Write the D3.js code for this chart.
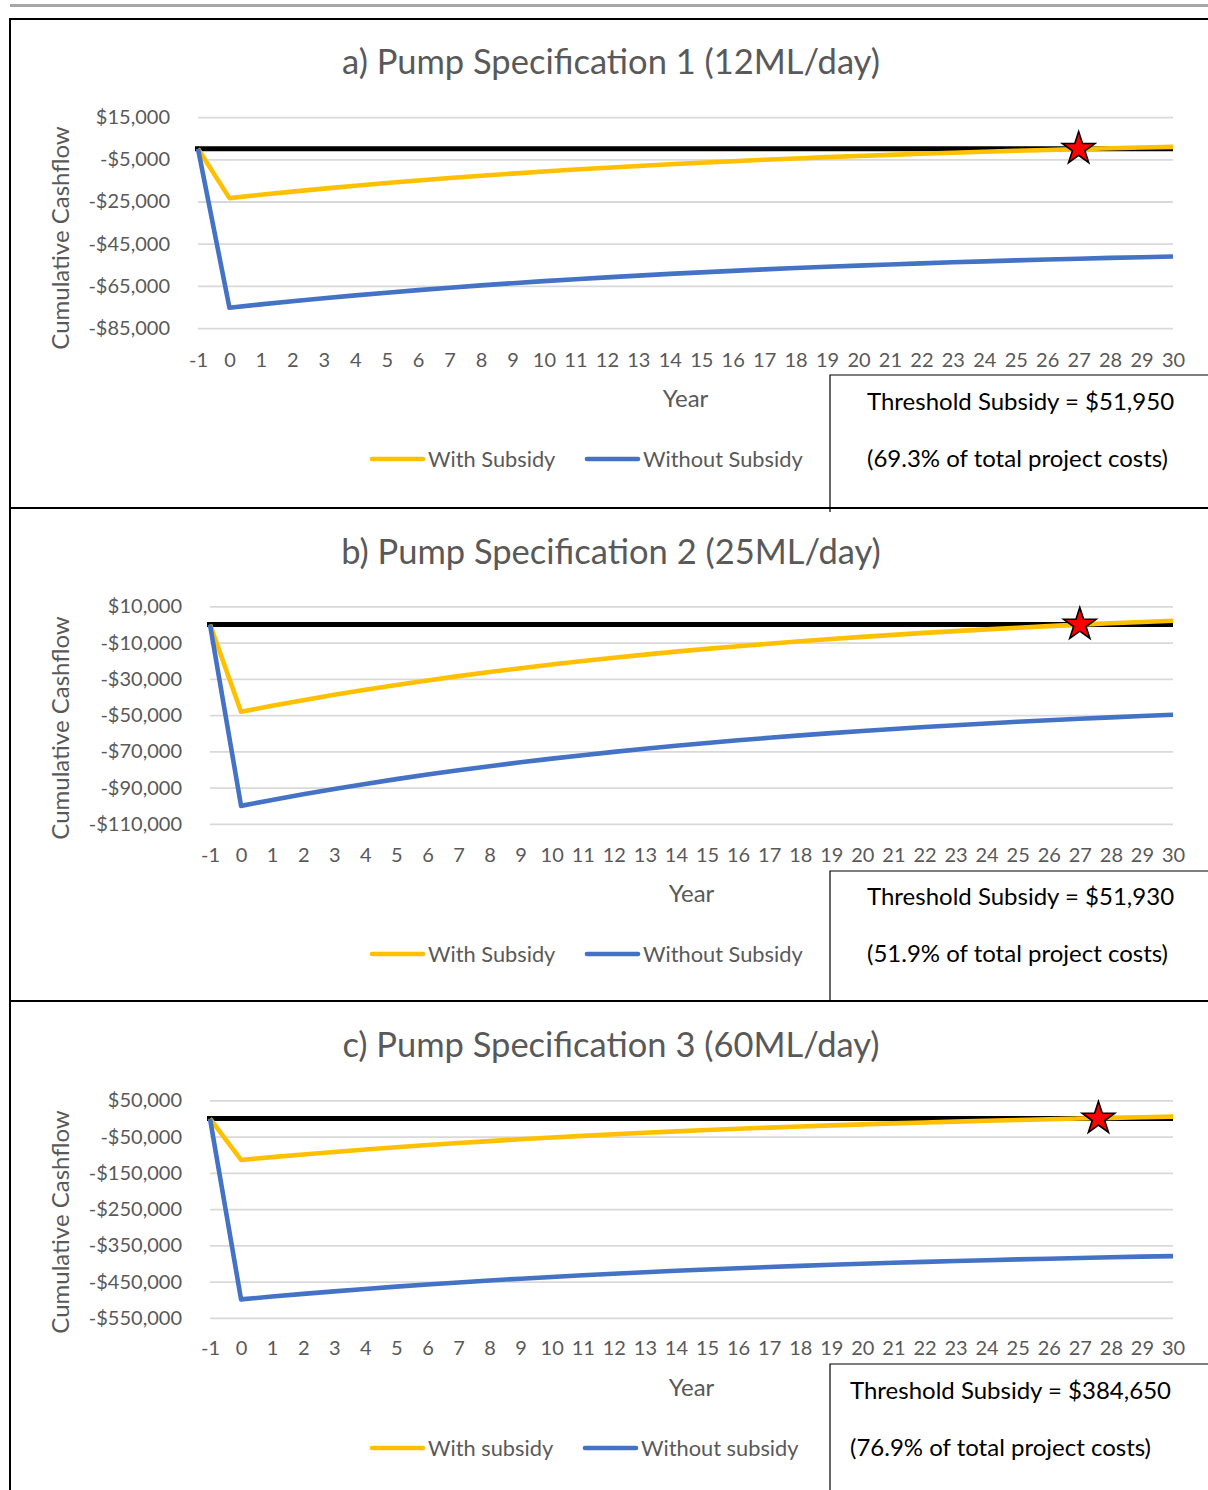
<!DOCTYPE html>
<html>
<head>
<meta charset="utf-8">
<script src="https://cdn.jsdelivr.net/npm/d3@7"></script>
<style>
  body { margin: 0; background: #fff; }
  svg text { font-family: Lato, "Liberation Sans", sans-serif; }
</style>
</head>
<body>
<div id="chart"></div>
<script>
// years on the category axis
const years = d3.range(-1, 31);

// a) Pump Specification 1 (12ML/day)
const withSubsidyA = [0, -23400, -21810, -20310, -18890, -17540, -16260, -15050, -13900, -12810, -11780,
  -10800, -9870, -8990, -8160, -7370, -6620, -5910, -5230, -4600, -3990,
  -3420, -2880, -2360, -1870, -1410, -970, -560, -160, 210, 560, 900];
const withoutSubsidyA = [0, -75350, -73760, -72260, -70840, -69490, -68210, -67000, -65850, -64760, -63730,
  -62750, -61820, -60940, -60110, -59320, -58570, -57860, -57180, -56550, -55940,
  -55370, -54830, -54310, -53820, -53360, -52920, -52510, -52110, -51740, -51390, -51050];
const yTicksA = [15000, -5000, -25000, -45000, -65000, -85000];

// b) Pump Specification 2 (25ML/day)
const withSubsidyB = [0, -48100, -44820, -41720, -38770, -35980, -33340, -30830, -28450, -26200, -24060,
  -22040, -20120, -18300, -16580, -14940, -13400, -11930, -10540, -9220, -7970,
  -6780, -5660, -4590, -3590, -2630, -1720, -860, -50, 730, 1460, 2150];
const withoutSubsidyB = [0, -100030, -96750, -93650, -90700, -87910, -85270, -82760, -80380, -78130, -75990,
  -73970, -72050, -70230, -68510, -66870, -65330, -63860, -62470, -61150, -59900,
  -58710, -57590, -56520, -55520, -54560, -53650, -52790, -51980, -51200, -50470, -49780];
const yTicksB = [10000, -10000, -30000, -50000, -70000, -90000, -110000];

// c) Pump Specification 3 (60ML/day)
const withSubsidyC = [0, -114300, -106510, -99120, -92120, -85480, -79190, -73230, -67580, -62220, -57140,
  -52330, -47760, -43440, -39340, -35450, -31770, -28280, -24970, -21840, -18860,
  -16050, -13370, -10840, -8440, -6170, -4010, -1970, -30, 1810, 3550, 5200];
const withoutSubsidyC = [0, -498950, -491160, -483770, -476770, -470130, -463840, -457880, -452230, -446870, -441790,
  -436980, -432410, -428090, -423990, -420100, -416420, -412930, -409620, -406490, -403510,
  -400700, -398020, -395490, -393090, -390820, -388660, -386620, -384680, -382840, -381100, -379450];
const yTicksC = [50000, -50000, -150000, -250000, -350000, -450000, -550000];

// break-even line (year -1 to year 30 at $0)
const breakEvenYears = [-1, 30];
const breakEvenValues = [0, 0];

const titles = ["a) Pump Specification 1 (12ML/day)", "b) Pump Specification 2 (25ML/day)", "c) Pump Specification 3 (60ML/day)"];
const thresholdTexts = ["Threshold Subsidy = $51,950", "Threshold Subsidy = $51,930", "Threshold Subsidy = $384,650"];
const shareTexts = ["(69.3% of total project costs)", "(51.9% of total project costs)", "(76.9% of total project costs)"];
const legendNames = [["With Subsidy", "Without Subsidy"], ["With Subsidy", "Without Subsidy"], ["With subsidy", "Without subsidy"]];
const starYears = [27, 27, 27.6];

const W = 1208, H = 1490;
const plotRight = 1173;
const gray = "#595959";

const panels = [
  {withS: withSubsidyA, withoutS: withoutSubsidyA, ticks: yTicksA,
   top: 19, left: 198, yPx: [328.1, 117.1], titleY: 62, xTickY: 360, yearY: 399, legendY: 459,
   axisTitleY: 238, boxTop: 375, boxTextX: 867, boxY: [402, 459], legendX: [370, 585]},
  {withS: withSubsidyB, withoutS: withoutSubsidyB, ticks: yTicksB,
   top: 508, left: 210, yPx: [823.95, 606.45], titleY: 552, xTickY: 855, yearY: 894, legendY: 954,
   axisTitleY: 728, boxTop: 871, boxTextX: 867, boxY: [897, 954], legendX: [370, 585]},
  {withS: withSubsidyC, withoutS: withoutSubsidyC, ticks: yTicksC,
   top: 1001, left: 210, yPx: [1317.9, 1100.4], titleY: 1045, xTickY: 1348, yearY: 1388, legendY: 1448,
   axisTitleY: 1222, boxTop: 1364, boxTextX: 850, boxY: [1391, 1448], legendX: [370, 583]}
];

const svg = d3.select("#chart").append("svg")
  .attr("width", W).attr("height", H);

svg.append("rect").attr("width", W).attr("height", H).attr("fill", "#fff");

// grey rule at the top of the page
svg.append("line")
  .attr("x1", 10).attr("x2", W).attr("y1", 5.5).attr("y2", 5.5)
  .attr("stroke", "#a6a6a6").attr("stroke-width", 3);

const money = d => (d < 0 ? "-" : "") + "$" + d3.format(",")(Math.abs(d));

panels.forEach((p, i) => {
  const g = svg.append("g");

  const x = d3.scaleLinear().domain([-1, 30]).range([p.left, plotRight]);
  const y = d3.scaleLinear()
    .domain([p.ticks[p.ticks.length - 1], p.ticks[0]])
    .range(p.yPx);

  // gridlines + y labels
  const yAxis = g.append("g")
    .attr("transform", `translate(${p.left},0)`)
    .call(d3.axisLeft(y).tickValues(p.ticks).tickFormat(money)
      .tickSizeInner(-(plotRight - p.left)).tickSizeOuter(0).tickPadding(28));
  yAxis.select(".domain").remove();
  yAxis.selectAll(".tick line").attr("stroke", "#d9d9d9").attr("stroke-width", 1.8);
  yAxis.selectAll(".tick text").attr("fill", gray).style("font-size", "20px");

  // x labels
  const xAxis = g.append("g")
    .attr("transform", `translate(0,${p.yPx[0]})`)
    .call(d3.axisBottom(x).tickValues(years).tickFormat(d => String(d))
      .tickSize(0).tickPadding(p.xTickY - p.yPx[0] - 7));
  xAxis.select(".domain").remove();
  xAxis.selectAll(".tick text").attr("fill", gray).style("font-size", "20px");

  const line = d3.line().x(d => x(d[0])).y(d => y(d[1]));

  // black break-even line
  g.append("path")
    .datum(breakEvenYears.map((yr, k) => [yr, breakEvenValues[k]]))
    .attr("d", line)
    .attr("fill", "none").attr("stroke", "#000").attr("stroke-width", 5);
  g.append("rect")
    .attr("x", x(-1) - 3).attr("y", y(0) - 2.5).attr("width", 4).attr("height", 5)
    .attr("fill", "#000");

  g.append("path")
    .datum(years.map((yr, k) => [yr, p.withS[k]]))
    .attr("d", line)
    .attr("fill", "none").attr("stroke", "#FFC000").attr("stroke-width", 4.6)
    .attr("stroke-linejoin", "round");

  g.append("path")
    .datum(years.map((yr, k) => [yr, p.withoutS[k]]))
    .attr("d", line)
    .attr("fill", "none").attr("stroke", "#4472C4").attr("stroke-width", 4.6)
    .attr("stroke-linejoin", "round");

  // break-even star
  g.append("path")
    .attr("d", d3.symbol(d3.symbolStar).size(330))
    .attr("transform", `translate(${x(starYears[i])},${y(0)})`)
    .attr("fill", "#ff0000").attr("stroke", "#000").attr("stroke-width", 1.6);

  // title
  g.append("text")
    .attr("x", 611).attr("y", p.titleY).attr("dy", "0.35em")
    .attr("text-anchor", "middle").attr("fill", gray)
    .style("font-size", "34.5px").text(titles[i]);

  // y axis title
  g.append("text")
    .attr("transform", `translate(61,${p.axisTitleY}) rotate(-90)`)
    .attr("dy", "0.35em").attr("text-anchor", "middle").attr("fill", gray)
    .style("font-size", "24px").text("Cumulative Cashflow");

  // x axis title
  g.append("text")
    .attr("x", (p.left + plotRight) / 2).attr("y", p.yearY).attr("dy", "0.35em")
    .attr("text-anchor", "middle").attr("fill", gray)
    .style("font-size", "24px").text("Year");

  // legend
  const colors = ["#FFC000", "#4472C4"];
  p.legendX.forEach((lx, k) => {
    g.append("line")
      .attr("x1", lx + 2).attr("x2", lx + 53)
      .attr("y1", p.legendY).attr("y2", p.legendY)
      .attr("stroke", colors[k]).attr("stroke-width", 4.6).attr("stroke-linecap", "round");
    g.append("text")
      .attr("x", lx + 58).attr("y", p.legendY).attr("dy", "0.35em")
      .attr("fill", gray).style("font-size", "21.8px").text(legendNames[i][k]);
  });

  // threshold box
  g.append("path")
    .attr("d", `M${W + 2},${p.boxTop}H830V${Math.min(p.top + 493, H + 2)}`)
    .attr("fill", "none").attr("stroke", "#000").attr("stroke-width", 1.2);
  g.append("text")
    .attr("x", p.boxTextX).attr("y", p.boxY[0]).attr("dy", "0.35em")
    .attr("fill", "#000").style("font-size", "24px").text(thresholdTexts[i]);
  g.append("text")
    .attr("x", p.boxTextX).attr("y", p.boxY[1]).attr("dy", "0.35em")
    .attr("fill", "#000").style("font-size", "24px").text(shareTexts[i]);

  // panel top border
  svg.append("line")
    .attr("x1", 10).attr("x2", W).attr("y1", p.top).attr("y2", p.top)
    .attr("stroke", "#000").attr("stroke-width", 2);
});

// left border of the frame
svg.append("line")
  .attr("x1", 10).attr("x2", 10).attr("y1", 18).attr("y2", H)
  .attr("stroke", "#000").attr("stroke-width", 2);
</script>
</body>
</html>
